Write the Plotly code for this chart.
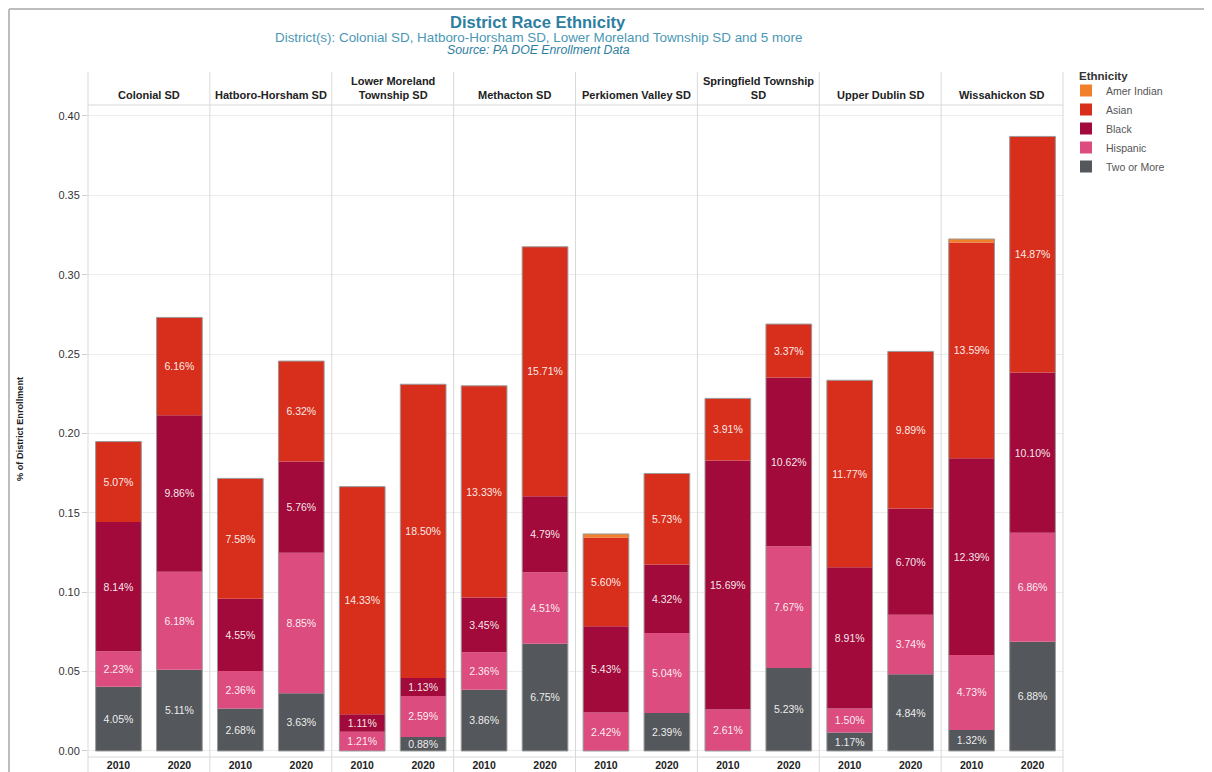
import numpy as np
import plotly.graph_objects as go
from plotly.subplots import make_subplots

districts = ["Colonial SD", "Hatboro-Horsham SD", "Lower Moreland<br>Township SD", "Methacton SD",
             "Perkiomen Valley SD", "Springfield Township<br>SD", "Upper Dublin SD", "Wissahickon SD"]
years = ["2010", "2020"]

# values per district: [2010, 2020]
two_or_more = [[0.0405, 0.0511], [0.0268, 0.0363], [0.0, 0.0088], [0.0386, 0.0675],
               [0.0, 0.0239], [0.0, 0.0523], [0.0117, 0.0484], [0.0132, 0.0688]]
hispanic = [[0.0223, 0.0618], [0.0236, 0.0885], [0.0121, 0.0259], [0.0236, 0.0451],
            [0.0242, 0.0504], [0.0261, 0.0767], [0.0150, 0.0374], [0.0473, 0.0686]]
black = [[0.0814, 0.0986], [0.0455, 0.0576], [0.0111, 0.0113], [0.0345, 0.0479],
         [0.0543, 0.0432], [0.1569, 0.1062], [0.0891, 0.0670], [0.1239, 0.1010]]
asian = [[0.0507, 0.0616], [0.0758, 0.0632], [0.1433, 0.1850], [0.1333, 0.1571],
         [0.0560, 0.0573], [0.0391, 0.0337], [0.1177, 0.0989], [0.1359, 0.1487]]
amer_indian = [[0.0, 0.0], [0.0, 0.0], [0.0, 0.0], [0.0, 0.0],
               [0.0022, 0.0], [0.0, 0.0], [0.0, 0.0], [0.0022, 0.0]]

series = [("Two or More", two_or_more, "#54575b", True),
          ("Hispanic", hispanic, "#dc4c7e", True),
          ("Black", black, "#a10a3a", True),
          ("Asian", asian, "#d82f1c", True),
          ("Amer Indian", amer_indian, "#f0802c", False)]

OFF = 8  # page body margin
W, H = 1212 - OFF, 772 - OFF
L, R, T, B = 88, 1063, 105, 757   # in screen pixels
def px(x):
    return (x - L) / (R - L)
def py(y):
    return (B - y) / (B - T)

n = len(districts)
fig = make_subplots(rows=1, cols=n, shared_yaxes=True, horizontal_spacing=0)

FONT = "Liberation Sans"
for k in range(n):
    base = np.zeros(2)
    for si, (name, vals, color, labeled) in enumerate(series):
        v = np.array(vals[k], dtype=float)
        text = [f"{x*100:.2f}%" if (labeled and x > 0) else "" for x in v]
        fig.add_trace(go.Bar(
            x=years, y=v, base=base.copy(), name=name, legendgroup=name,
            showlegend=(k == 0), marker=dict(color=color, line=dict(width=0)),
            width=0.75, text=text, textposition="inside", insidetextanchor="middle",
            textangle=0, constraintext="none",
            textfont=dict(color="rgba(255,255,255,0.92)", size=10.5, family=FONT),
            hovertemplate=name + ": %{text}<extra></extra>",
            legendrank=100 - si,
        ), row=1, col=k + 1)
        base = base + v
    fig.add_trace(go.Bar(
        x=years, y=base, base=[0, 0], showlegend=False, width=0.75,
        marker=dict(color="rgba(0,0,0,0)", line=dict(color="#9a9a9a", width=1)),
        hoverinfo="skip",
    ), row=1, col=k + 1)

fig.update_layout(barmode="overlay")

for k in range(n):
    fig.update_xaxes(row=1, col=k + 1, type="category", range=[-0.5, 1.5],
                     showgrid=False, showline=False, ticks="",
                     tickfont=dict(family=FONT, size=10.5, color="#222", weight="bold"),
                     fixedrange=True)
fig.update_yaxes(range=[-0.0038, 0.4069], tickvals=[0, 0.05, 0.1, 0.15, 0.2, 0.25, 0.3, 0.35, 0.4],
                 tickformat=".2f", showgrid=True, gridcolor="#ececec", gridwidth=1,
                 zeroline=False, showline=False)
fig.update_yaxes(row=1, col=1, ticks="outside", ticklen=5, tickcolor="#d0d0d0",
                 tickfont=dict(family=FONT, size=11, color="#333"))

shapes = []
line_c = "#d9d9d9"
for k in range(n + 1):
    shapes.append(dict(type="line", xref="paper", yref="paper", x0=k / n, x1=k / n,
                       y0=py(72), y1=py(775), line=dict(color=line_c, width=1)))
shapes.append(dict(type="line", xref="paper", yref="paper", x0=0, x1=1, y0=1, y1=1,
                   line=dict(color=line_c, width=1)))
shapes.append(dict(type="line", xref="paper", yref="paper", x0=0, x1=1, y0=0, y1=0,
                   line=dict(color=line_c, width=1)))
# outer frame
shapes.append(dict(type="line", xref="paper", yref="paper", x0=px(9), x1=px(9), y0=py(9), y1=py(775),
                   line=dict(color="#bdbdbd", width=2)))
shapes.append(dict(type="line", xref="paper", yref="paper", x0=px(9), x1=px(1215), y0=py(9), y1=py(9),
                   line=dict(color="#bdbdbd", width=2)))

annotations = []
for k, d in enumerate(districts):
    annotations.append(dict(text="<b>" + d + "</b>", xref="paper", yref="paper",
                            x=(k + 0.5) / n, y=py(103), xanchor="center", yanchor="bottom",
                            showarrow=False, font=dict(family=FONT, size=11, color="#222")))
annotations.append(dict(text="<b>District Race Ethnicity</b>", xref="paper", yref="paper",
                        x=px(538), y=py(22.5), xanchor="center", yanchor="middle", showarrow=False,
                        font=dict(family=FONT, size=16.5, color="#2d7ea1")))
annotations.append(dict(text="District(s): Colonial SD, Hatboro-Horsham SD, Lower Moreland Township SD and 5 more",
                        xref="paper", yref="paper", x=px(538), y=py(37.5), xanchor="center", yanchor="middle",
                        showarrow=False, font=dict(family=FONT, size=13.4, color="#4a98b5")))
annotations.append(dict(text="<i>Source: PA DOE Enrollment Data</i>", xref="paper", yref="paper",
                        x=px(538), y=py(50), xanchor="center", yanchor="middle", showarrow=False,
                        font=dict(family=FONT, size=12.3, color="#2d7ea1")))
annotations.append(dict(text="<b>% of District Enrollment</b>", xref="paper", yref="paper",
                        x=px(20), y=py(429), xanchor="center", yanchor="middle", textangle=-90,
                        showarrow=False, font=dict(family=FONT, size=9.2, color="#222")))
annotations.append(dict(text="<b>Ethnicity</b>", xref="paper", yref="paper",
                        x=px(1077), y=py(76), xanchor="left", yanchor="middle", showarrow=False,
                        font=dict(family=FONT, size=11.5, color="#333")))

fig.update_layout(
    width=W, height=H, autosize=False,
    margin=dict(l=L - OFF, r=W - (R - OFF), t=T - OFF, b=H - (B - OFF), autoexpand=False),
    paper_bgcolor="white", plot_bgcolor="white",
    font=dict(family=FONT, color="#333"),
    shapes=shapes, annotations=annotations,
    legend=dict(x=px(1066), y=py(76), xanchor="left", yanchor="top",
                font=dict(family=FONT, size=10.5, color="#555"), traceorder="normal",
                itemwidth=30, bgcolor="rgba(0,0,0,0)", tracegroupgap=0),
    hovermode="closest",
)

fig.write_html("out.html")
